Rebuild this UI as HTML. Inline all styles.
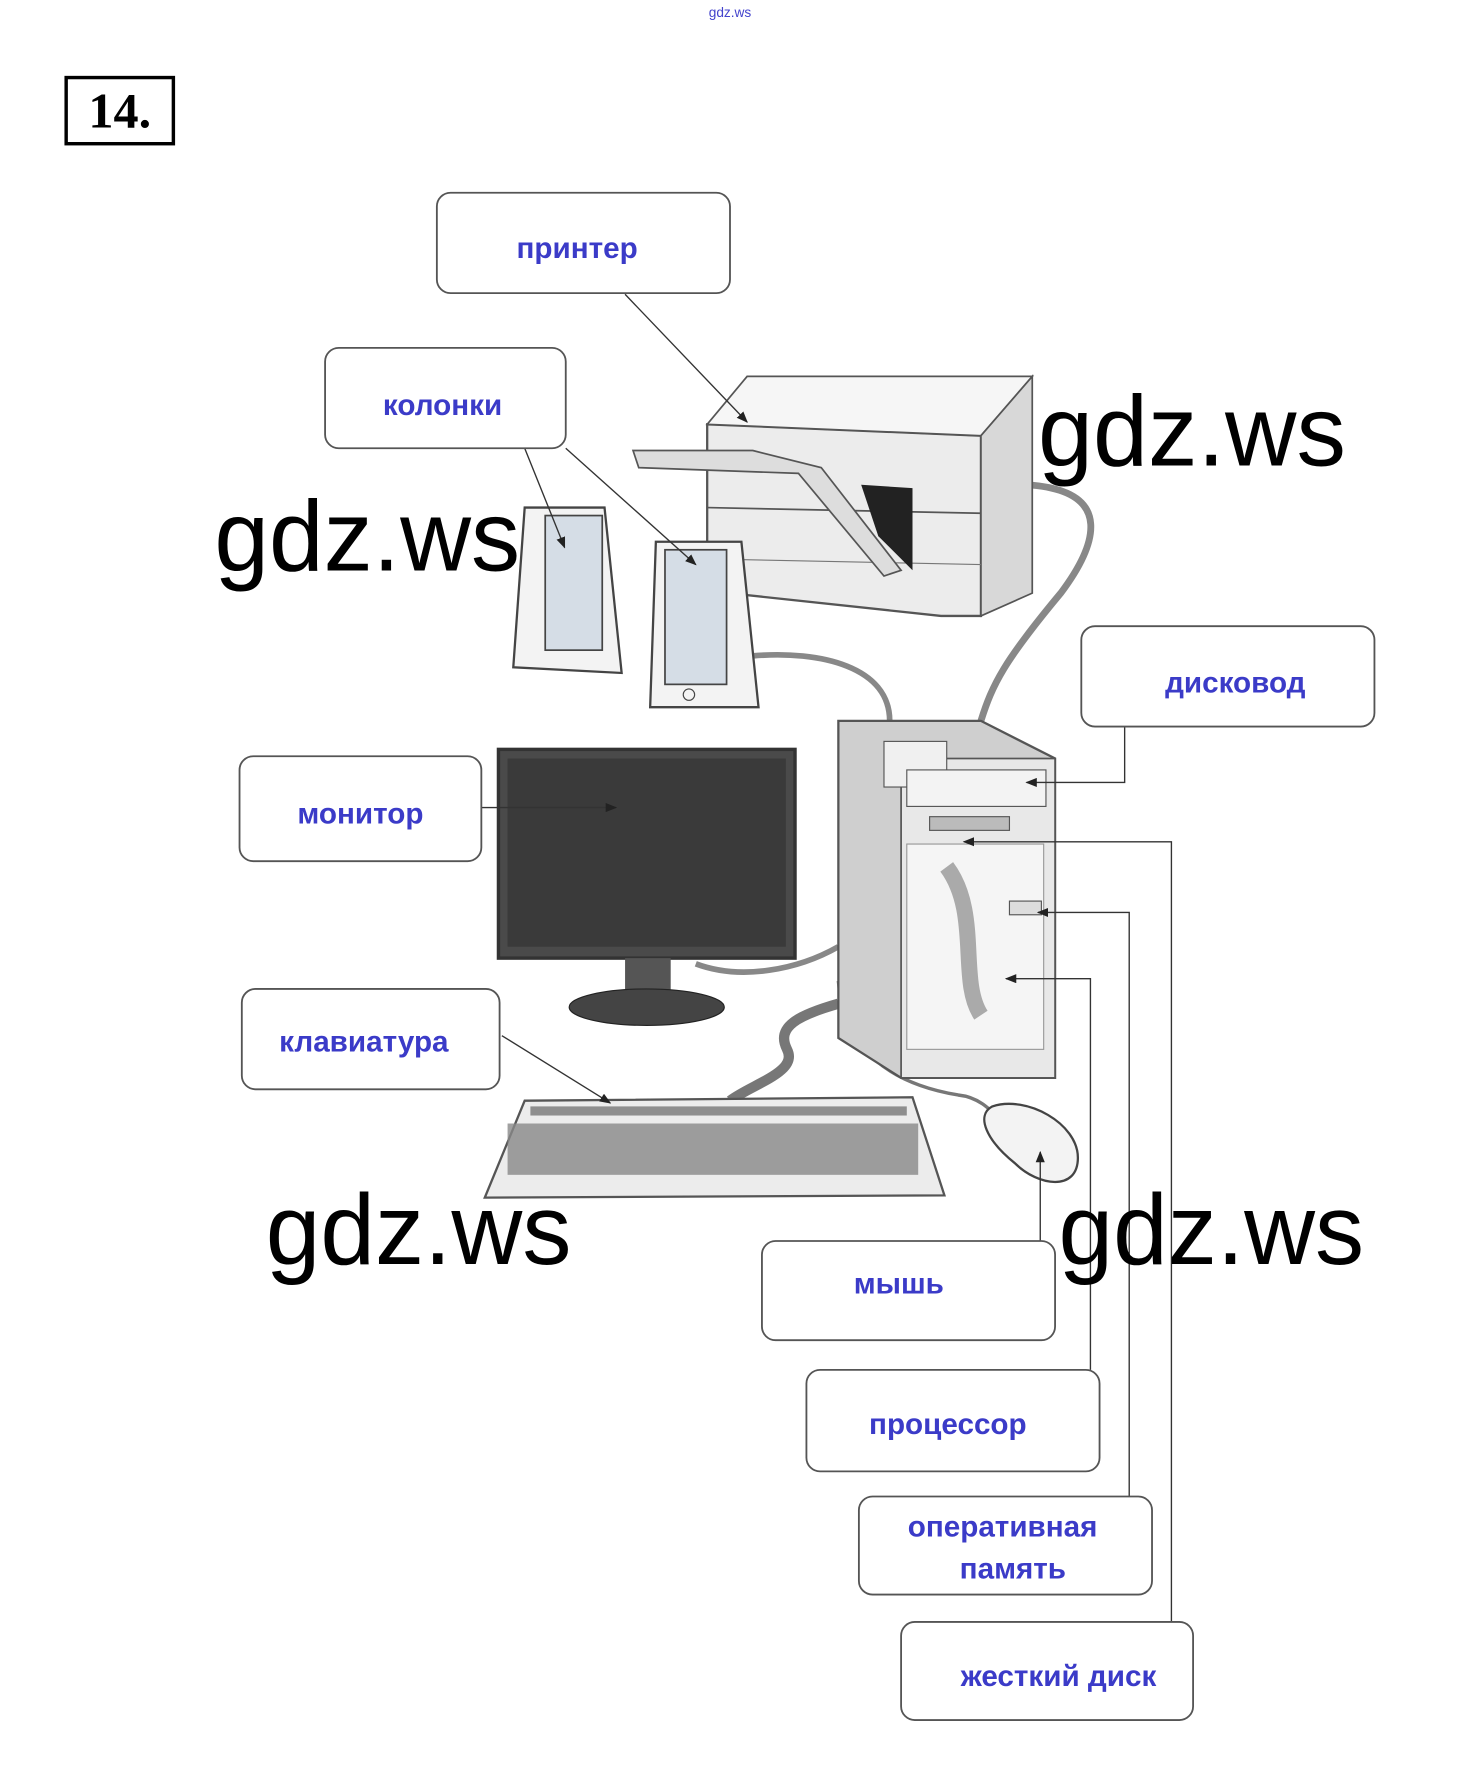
<!DOCTYPE html>
<html><head><meta charset="utf-8"><style>
html,body{margin:0;padding:0;background:#fff;}
svg{display:block;}
.lb{font-family:"Liberation Sans",sans-serif;font-weight:bold;font-size:26px;fill:#3b3bc8;text-anchor:middle;}
.wm{font-family:"Liberation Sans",sans-serif;font-size:88px;fill:#000;}
.bx{fill:#fff;stroke:#555;stroke-width:1.6;}
.ln{stroke:#333;stroke-width:1.2;fill:none;}
</style></head><body>
<svg width="1460" height="1787" viewBox="0 0 1280 1566.7" xmlns="http://www.w3.org/2000/svg">
<defs><marker id="ar" markerWidth="10" markerHeight="8" refX="9" refY="4" orient="auto" markerUnits="userSpaceOnUse"><path d="M0,0 L10,4 L0,8 z" fill="#222"/></marker></defs>
<text x="640" y="15" font-family="Liberation Sans,sans-serif" font-size="12" fill="#4444cc" text-anchor="middle">gdz.ws</text>
<rect x="58" y="68" width="94" height="58" fill="none" stroke="#000" stroke-width="3"/>
<text x="105" y="112" font-family="Liberation Serif,serif" font-weight="bold" font-size="44" text-anchor="middle">14.</text>

<!-- cables -->
<path d="M900,425 C980,430 960,480 930,520 C880,580 870,600 860,632" stroke="#888" stroke-width="6" fill="none"/>
<path d="M660,575 C720,570 780,585 780,632" stroke="#888" stroke-width="5" fill="none"/>
<path d="M610,845 C650,860 700,850 735,830" stroke="#888" stroke-width="5" fill="none"/>
<path d="M735,880 C700,890 680,900 690,920 C700,940 660,950 640,965" stroke="#777" stroke-width="9" fill="none"/>
<path d="M735,860 C740,920 780,950 840,960 C860,962 870,975 880,985" stroke="#777" stroke-width="3" fill="none"/>

<!-- printer -->
<polygon points="620,372 860,382 860,540 825,540 620,518" fill="#ececec" stroke="#555" stroke-width="2"/>
<polygon points="620,372 655,330 905,330 860,382" fill="#f6f6f6" stroke="#555" stroke-width="1.5"/>
<polygon points="860,382 905,330 905,520 860,540" fill="#d8d8d8" stroke="#555" stroke-width="1.5"/>
<line x1="620" y1="445" x2="860" y2="450" stroke="#555" stroke-width="1.5"/>
<line x1="620" y1="490" x2="860" y2="495" stroke="#777" stroke-width="1"/>
<polygon points="755,425 800,428 800,500 770,470" fill="#222"/>
<polygon points="555,395 660,395 720,410 790,500 775,505 700,415 560,410" fill="#ddd" stroke="#555" stroke-width="1.5"/>

<!-- speakers -->
<polygon points="460,445 530,445 545,590 450,585" fill="#f3f3f3" stroke="#444" stroke-width="2"/>
<rect x="478" y="452" width="50" height="118" fill="#d5dde6" stroke="#444" stroke-width="1.5"/>
<polygon points="575,475 650,475 665,620 570,620" fill="#f3f3f3" stroke="#444" stroke-width="2"/>
<rect x="583" y="482" width="54" height="118" fill="#d5dde6" stroke="#444" stroke-width="1.5"/>
<circle cx="604" cy="609" r="5" fill="none" stroke="#444"/>

<!-- monitor -->
<rect x="437" y="657" width="260" height="183" fill="#4a4a4a" stroke="#333" stroke-width="3"/>
<rect x="445" y="665" width="244" height="165" fill="#3a3a3a"/>
<rect x="548" y="840" width="40" height="35" fill="#555"/>
<ellipse cx="567" cy="883" rx="68" ry="16" fill="#444" stroke="#222"/>

<!-- tower -->
<polygon points="735,632 860,632 925,665 925,945 790,945 735,910" fill="#cfcfcf" stroke="#555" stroke-width="2"/>
<rect x="790" y="665" width="135" height="280" fill="#e8e8e8" stroke="#555" stroke-width="1.5"/>
<rect x="775" y="650" width="55" height="40" fill="#f0f0f0" stroke="#555"/>
<rect x="795" y="675" width="122" height="32" fill="#f3f3f3" stroke="#555"/>
<rect x="815" y="716" width="70" height="12" fill="#bbb" stroke="#555"/>
<rect x="795" y="740" width="120" height="180" fill="#f5f5f5" stroke="#999"/>
<rect x="885" y="790" width="28" height="12" fill="#ddd" stroke="#555"/>
<path d="M830,760 C860,800 840,860 860,890" stroke="#aaa" stroke-width="14" fill="none"/>

<!-- keyboard -->
<polygon points="460,965 800,962 828,1048 425,1050" fill="#ececec" stroke="#555" stroke-width="2"/>
<rect x="445" y="985" width="360" height="45" fill="#888" opacity="0.8"/>
<rect x="465" y="970" width="330" height="8" fill="#777" opacity="0.8"/>

<!-- mouse -->
<path d="M870,970 C900,960 945,985 945,1015 C945,1045 910,1040 890,1020 C865,1000 855,978 870,970 z" fill="#f3f3f3" stroke="#444" stroke-width="2"/>

<!-- connectors -->
<line class="ln" x1="548" y1="258" x2="655" y2="370" marker-end="url(#ar)"/>
<line class="ln" x1="460" y1="393" x2="495" y2="480" marker-end="url(#ar)"/>
<line class="ln" x1="496" y1="393" x2="610" y2="495" marker-end="url(#ar)"/>
<polyline class="ln" points="986,637 986,686 900,686" marker-end="url(#ar)"/>
<line class="ln" x1="422" y1="708" x2="540" y2="708" marker-end="url(#ar)"/>
<line class="ln" x1="440" y1="908" x2="535" y2="967" marker-end="url(#ar)"/>
<line class="ln" x1="912" y1="1088" x2="912" y2="1010" marker-end="url(#ar)"/>
<polyline class="ln" points="956,1201 956,858 882,858" marker-end="url(#ar)"/>
<polyline class="ln" points="990,1312 990,800 910,800" marker-end="url(#ar)"/>
<polyline class="ln" points="1027,1422 1027,738 845,738" marker-end="url(#ar)"/>

<!-- boxes -->
<rect class="bx" x="383" y="169" width="257" height="88" rx="12"/><text class="lb" x="506" y="226">принтер</text>
<rect class="bx" x="285" y="305" width="211" height="88" rx="12"/><text class="lb" x="388" y="364">колонки</text>
<rect class="bx" x="948" y="549" width="257" height="88" rx="12"/><text class="lb" x="1083" y="607">дисковод</text>
<rect class="bx" x="210" y="663" width="212" height="92" rx="12"/><text class="lb" x="316" y="722">монитор</text>
<rect class="bx" x="212" y="867" width="226" height="88" rx="12"/><text class="lb" x="319" y="922">клавиатура</text>
<rect class="bx" x="668" y="1088" width="257" height="87" rx="12"/><text class="lb" x="788" y="1134">мышь</text>
<rect class="bx" x="707" y="1201" width="257" height="89" rx="12"/><text class="lb" x="831" y="1257">процессор</text>
<rect class="bx" x="753" y="1312" width="257" height="86" rx="12"/><text class="lb" x="879" y="1347">оперативная</text><text class="lb" x="888" y="1384">память</text>
<rect class="bx" x="790" y="1422" width="256" height="86" rx="12"/><text class="lb" x="928" y="1478">жесткий диск</text>

<!-- watermarks -->
<text class="wm" x="910" y="408" textLength="270" lengthAdjust="spacingAndGlyphs">gdz.ws</text>
<text class="wm" x="188" y="500" textLength="268" lengthAdjust="spacingAndGlyphs">gdz.ws</text>
<text class="wm" x="233" y="1108" textLength="268" lengthAdjust="spacingAndGlyphs">gdz.ws</text>
<text class="wm" x="928" y="1108" textLength="268" lengthAdjust="spacingAndGlyphs">gdz.ws</text>
</svg>
</body></html>
